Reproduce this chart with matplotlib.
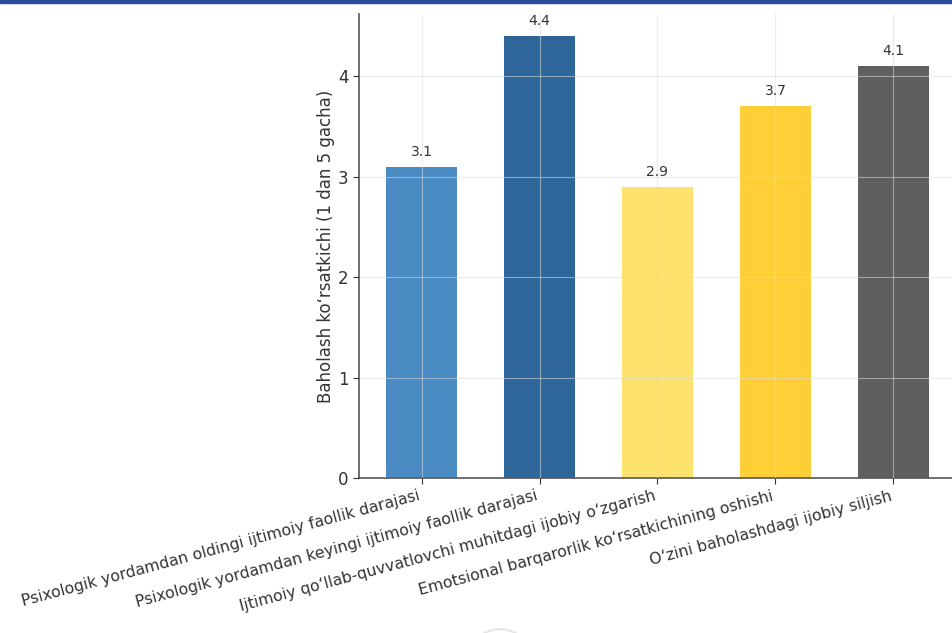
import matplotlib.pyplot as plt
from matplotlib.patches import Rectangle, Circle

# data
categories = [
    "Psixologik yordamdan oldingi ijtimoiy faollik darajasi",
    "Psixologik yordamdan keyingi ijtimoiy faollik darajasi",
    "Ijtimoiy qoʻllab-quvvatlovchi muhitdagi ijobiy oʻzgarish",
    "Emotsional barqarorlik koʻrsatkichining oshishi",
    "Oʻzini baholashdagi ijobiy siljish",
]
scores = [3.1, 4.4, 2.9, 3.7, 4.1]
bar_colors = ["#4a8bc3", "#2f6699", "#fde26d", "#fecf37", "#5f5f5f"]
y_label = "Baholash koʻrsatkichi (1 dan 5 gacha)"

fig = plt.figure(figsize=(9.53, 6.33), dpi=100)
fig.patch.set_facecolor("white")

# axes run past the right edge of the canvas
ax = fig.add_axes([359 / 953, 155 / 633, 597 / 953, 464 / 633])
x = range(len(categories))
bars = ax.bar(x, scores, width=0.6, color=bar_colors, zorder=1)

for xi, v in zip(x, scores):
    ax.text(xi, v + 0.08, f"{v}", ha="center", va="bottom",
            fontsize=10, color="#333333")

ax.set_xlim(-0.53, 4.53)
ax.set_ylim(0, 4.62)
ax.set_yticks([0, 1, 2, 3, 4])
ax.set_xticks(list(x))
ax.set_xticklabels(categories, rotation=15, ha="right", fontsize=11.3, color="#222222")
ax.tick_params(axis="y", labelsize=12, colors="#333333", length=4)
ax.tick_params(axis="x", length=4, colors="#333333")
ax.set_ylabel(y_label, fontsize=12, color="#333333", labelpad=2)

ax.grid(True, color="#dcdcdc", linewidth=0.8, alpha=0.55, zorder=2)
ax.set_axisbelow(False)
for side in ["top", "right"]:
    ax.spines[side].set_visible(False)
for side in ["left", "bottom"]:
    ax.spines[side].set_color("#555555")
    ax.spines[side].set_linewidth(1.2)

# thin frame stripe along the top edge
fig.add_artist(Rectangle((0, 1 - 3 / 633), 1, 3 / 633, transform=fig.transFigure,
                         color="#2b4a9e", zorder=10))
# faint round control peeking in at the bottom
fig.add_artist(Circle((500 / 953, -12 / 633), 0.025, transform=fig.transFigure,
                      facecolor="none", edgecolor="#e4e4e4", linewidth=1.5))

plt.savefig("out.png", dpi=100)
